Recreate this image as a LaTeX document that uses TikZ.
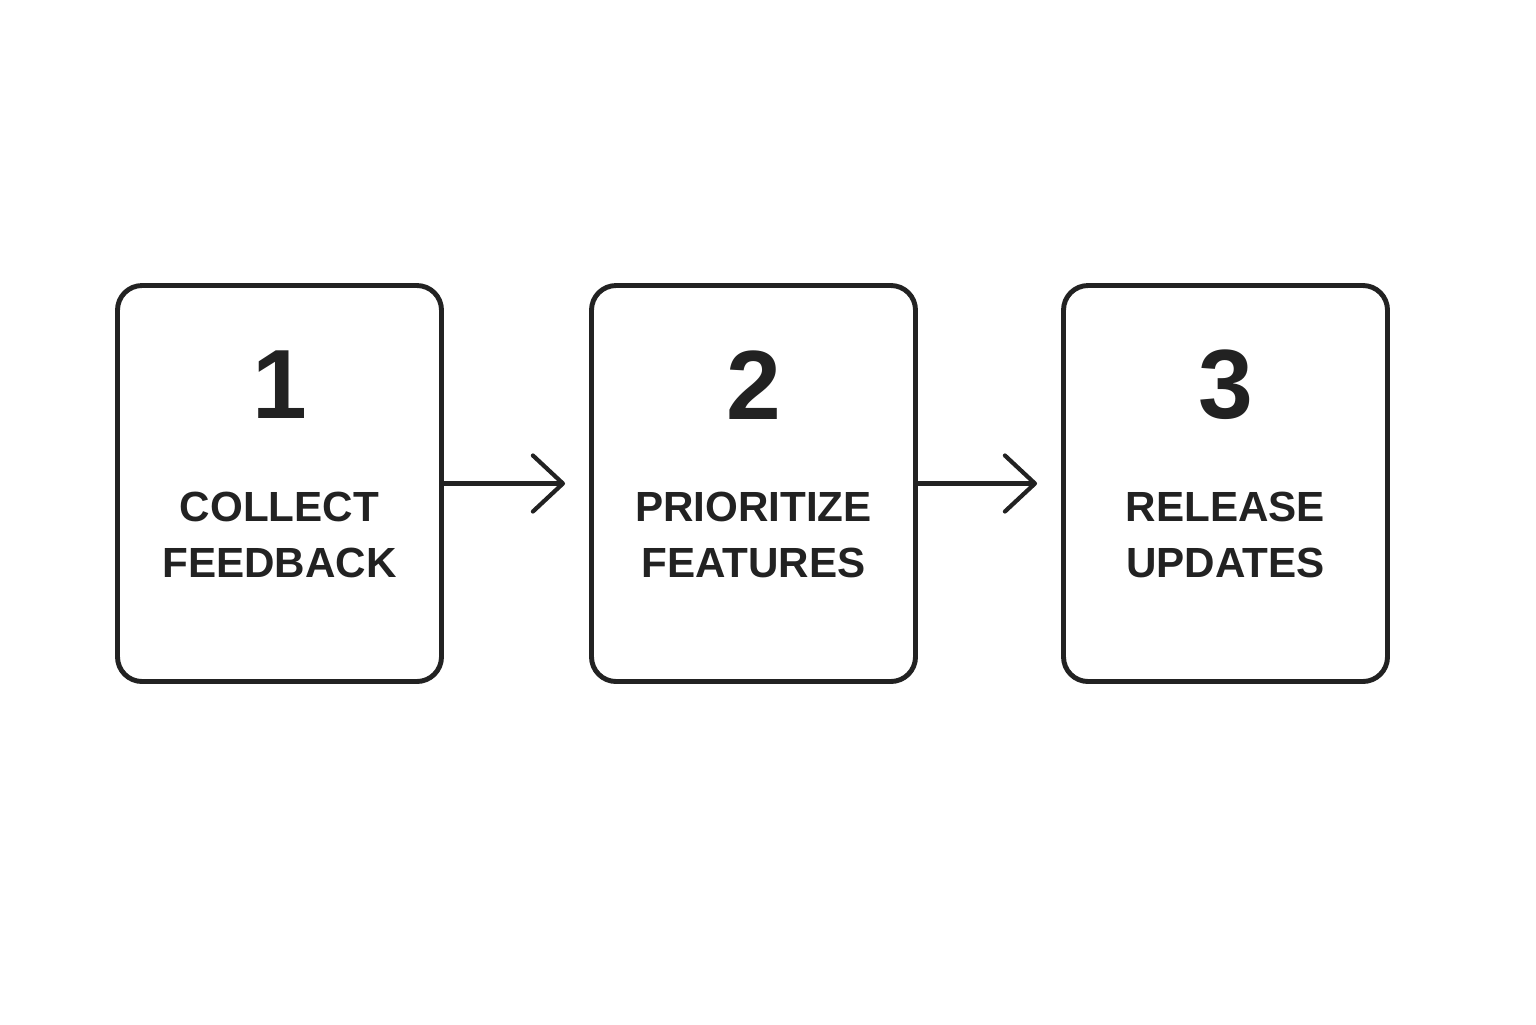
\documentclass[tikz,border=0pt]{standalone}
\usepackage{fontspec}
\setmainfont{Liberation Sans}
\usetikzlibrary{arrows.meta}
\definecolor{ink}{HTML}{222222}
\begin{document}
\begin{tikzpicture}[
    stagebox/.style={rectangle, draw=ink, rounded corners=7pt, minimum width=3.24cm,
                 minimum height=3.96cm, line width=1.4pt},
    stagenum/.style={font=\fontsize{28}{30}\selectfont\bfseries, text=ink},
    stagetxt/.style={font=\fontsize{12}{16}\selectfont\bfseries, text=ink, align=center},
    arrow/.style={-{Straight Barb[length=0.3cm, width=0.56cm, line join=round, line cap=round]},
                 line width=1.2pt, draw=ink, shorten >=0.24cm}
]
    \useasboundingbox (0,0) rectangle (15.36,-10.24);

    \node[stagebox] (collect)  at (2.795,  -4.835) {};
    \node[stagebox] (priority) at (7.535,  -4.835) {};
    \node[stagebox] (release)  at (12.255, -4.835) {};

    \node[stagenum] (n1) at (2.795,  -3.85) {1};
    \node[stagenum] (n2) at (7.535,  -3.85) {2};
    \node[stagenum] (n3) at (12.255, -3.85) {3};

    \node[stagetxt] (t1) at (2.795,  -5.35) {COLLECT\\FEEDBACK};
    \node[stagetxt] (t2) at (7.535,  -5.35) {PRIORITIZE\\FEATURES};
    \node[stagetxt] (t3) at (12.255, -5.35) {RELEASE\\UPDATES};

    \draw[arrow] (collect)  -- (priority);
    \draw[arrow] (priority) -- (release);
\end{tikzpicture}
\end{document}
